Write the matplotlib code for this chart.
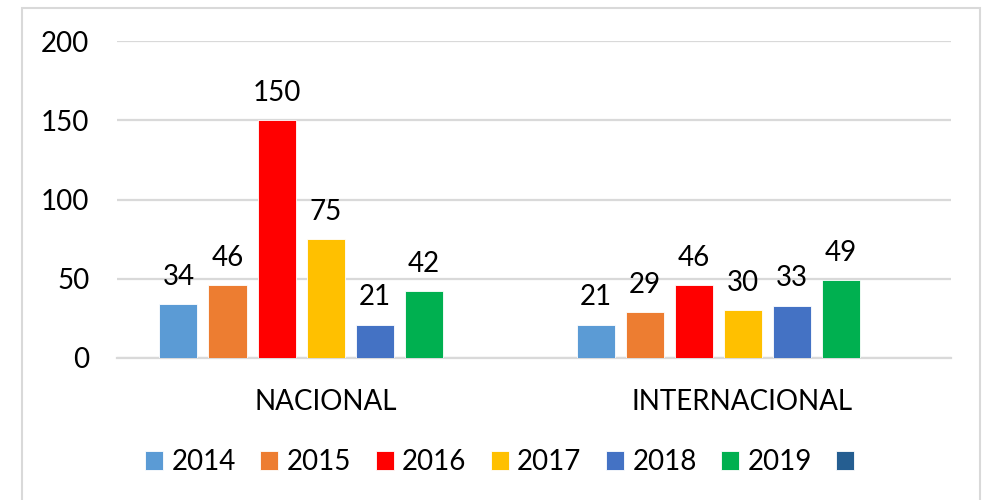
import numpy as np
import matplotlib
matplotlib.use("Agg")
import matplotlib.pyplot as plt
from matplotlib.patches import Rectangle

plt.rcParams['font.family'] = ['Lato', 'DejaVu Sans']

# -------------------------------------------------
# data
# -------------------------------------------------
categories = ["NACIONAL", "INTERNACIONAL"]
series_names = ["2014", "2015", "2016", "2017", "2018", "2019", ""]
v2014 = [34, 21]
v2015 = [46, 29]
v2016 = [150, 46]
v2017 = [75, 30]
v2018 = [21, 33]
v2019 = [42, 49]
vblank = [np.nan, np.nan]
values = [v2014, v2015, v2016, v2017, v2018, v2019, vblank]

colors = ["#5B9BD5", "#ED7D31", "#FF0000", "#FFC000",
          "#4472C4", "#00B050", "#255E91"]

# -------------------------------------------------
# figure
# -------------------------------------------------
fig = plt.figure(figsize=(9.82, 5.00), dpi=100)
ax = fig.add_axes([117 / 982, 1 - 358 / 500, (951 - 117) / 982, (358 - 41) / 500])

x = np.arange(len(categories))
slot = 49 / 417
width = 38 / 417
n = len(values)

handles = []
for i, (vals, c) in enumerate(zip(values, colors)):
    pos = x + (i - (n - 1) / 2) * slot
    bars = ax.bar(pos, vals, width=width, color=c, edgecolor="white",
                  linewidth=0.6, zorder=3)
    handles.append(bars)
    for px, v in zip(pos, vals):
        if np.isnan(v):
            continue
        ax.annotate(f"{v:g}", (px, v), xytext=(0, 14),
                    textcoords="offset points", ha="center",
                    va="baseline", fontsize=20, color="black")

ax.set_xlim(-0.5, 1.5)
ax.set_ylim(0, 200)
ax.set_yticks([0, 50, 100, 150, 200])
ax.set_xticks(x)
ax.set_xticklabels(categories)
ax.tick_params(axis="y", length=0, pad=20, labelsize=20)
ax.tick_params(axis="x", length=0, pad=22, labelsize=20)

ax.grid(axis="y", color="#D9D9D9", linewidth=1.6, zorder=0)
ax.set_axisbelow(True)
for s in ["top", "right", "left"]:
    ax.spines[s].set_visible(False)
ax.spines["bottom"].set_color("#D9D9D9")
ax.spines["bottom"].set_linewidth(1.6)

fig.legend(handles, series_names, loc="center",
           bbox_to_anchor=(504 / 982, 1 - 462 / 500), ncol=n,
           frameon=False, fontsize=20, handlelength=0.65,
           handleheight=0.65, handletextpad=0.3, columnspacing=0.88)

# outer chart frame
fig.patches.append(Rectangle((22 / 982, -0.05), (980 - 22) / 982, 1.05 - 8 / 500,
                             transform=fig.transFigure, fill=False,
                             edgecolor="#D9D9D9", linewidth=1.5))

fig.savefig("out.png", dpi=100)
